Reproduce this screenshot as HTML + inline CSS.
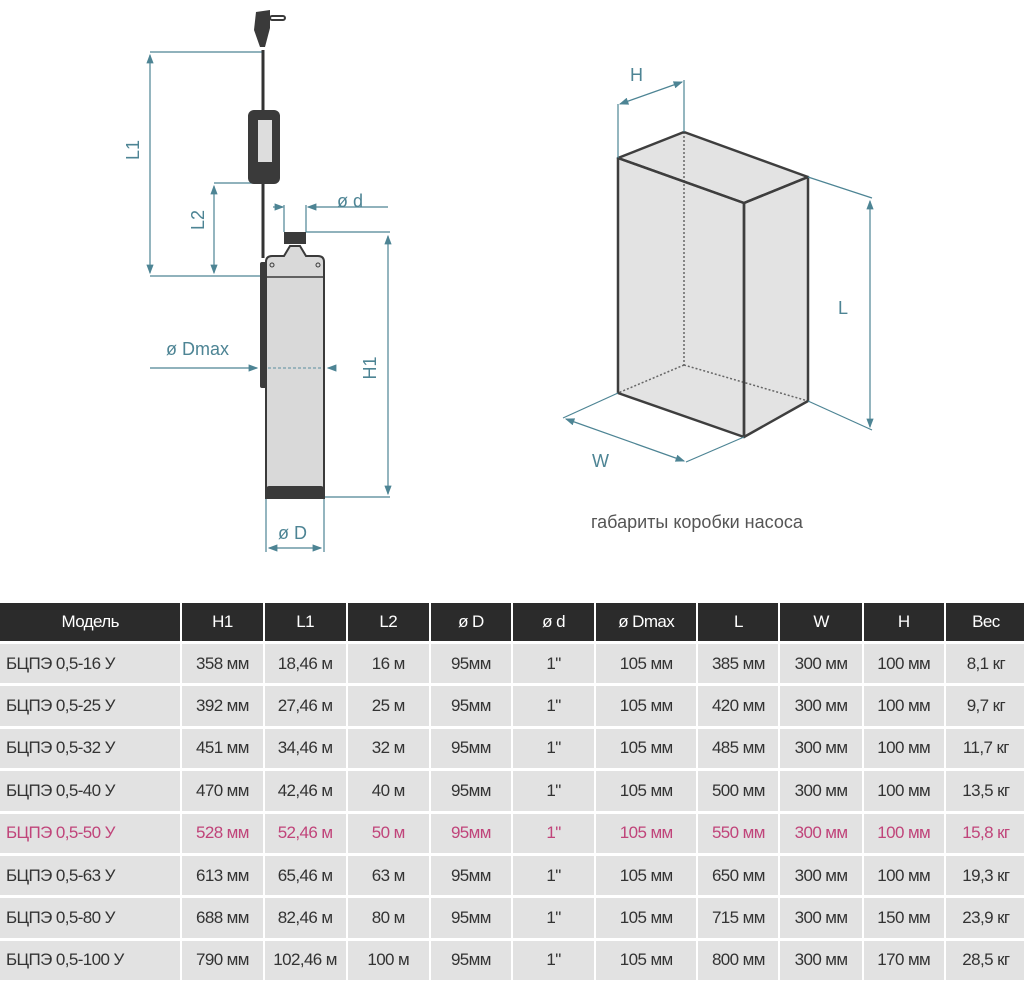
<!DOCTYPE html>
<html><head><meta charset="utf-8"><style>
body{margin:0;width:1024px;height:977px;background:#fff;overflow:hidden;font-family:"Liberation Sans","DejaVu Sans",sans-serif;position:relative}
svg{position:absolute;left:0;top:0}
table{position:absolute;left:-2px;top:600px;border-collapse:separate;border-spacing:2px 3px;width:1030px;table-layout:fixed}
td,th{height:39.4px;padding:0;text-align:center;font-size:17px;color:#333;background:#e2e2e2;white-space:nowrap;letter-spacing:-0.6px;overflow:hidden}
th{background:#2b2b2b;color:#fff;font-weight:normal;height:38px}
td:first-child{text-align:left;padding-left:6px}
tr.p td{color:#c0447a}
</style></head><body>
<svg width="1024" height="600" viewBox="0 0 1024 600">
<defs><marker id="a" markerWidth="8" markerHeight="8" refX="7" refY="4" orient="auto-start-reverse"><path d="M0,1 L8,4 L0,7z" fill="#4d8494"/></marker></defs>
<g stroke="#4d8494" stroke-width="1.2" fill="none">
<line x1="150" y1="52" x2="262" y2="52"/><line x1="150" y1="276" x2="265" y2="276"/>
<line x1="150" y1="55" x2="150" y2="273" marker-start="url(#a)" marker-end="url(#a)"/>
<line x1="214" y1="183" x2="262" y2="183"/>
<line x1="214" y1="186" x2="214" y2="273" marker-start="url(#a)" marker-end="url(#a)"/>
<line x1="284" y1="205" x2="284" y2="232"/><line x1="306" y1="205" x2="306" y2="232"/>
<line x1="273" y1="207" x2="283" y2="207" marker-end="url(#a)"/>
<line x1="388" y1="207" x2="308" y2="207" marker-end="url(#a)"/>
<line x1="306" y1="232" x2="390" y2="232"/><line x1="324" y1="497" x2="390" y2="497"/>
<line x1="388" y1="236" x2="388" y2="494" marker-start="url(#a)" marker-end="url(#a)"/>
<line x1="266" y1="498" x2="266" y2="552"/><line x1="324" y1="498" x2="324" y2="552"/>
<line x1="269" y1="548" x2="321" y2="548" marker-start="url(#a)" marker-end="url(#a)"/>
<line x1="150" y1="368" x2="257" y2="368" marker-end="url(#a)"/>
<line x1="336" y1="368" x2="328" y2="368" marker-end="url(#a)"/>
</g>
<line x1="263" y1="50" x2="263" y2="258" stroke="#333" stroke-width="3"/>
<path d="M256,12 L270,10 L270,28 L265,47 L260,47 L254,30z" fill="#3a3a3a"/>
<rect x="270" y="16" width="15" height="4" rx="2" fill="#fff" stroke="#3a3a3a" stroke-width="2"/>
<rect x="248" y="110" width="32" height="74" rx="6" fill="#3a3a3a"/>
<rect x="258" y="120" width="14" height="42" fill="#ddd"/>
<rect x="260" y="262" width="8" height="126" rx="2" fill="#3a3a3a"/>
<rect x="284" y="232" width="22" height="12" fill="#3a3a3a"/>
<path d="M266,262 Q266,256 272,256 L284,256 L290,246 L300,246 L306,256 L318,256 Q324,256 324,262 L324,498 L266,498z" fill="#d9d9d9" stroke="#3a3a3a" stroke-width="2"/>
<line x1="266" y1="277" x2="324" y2="277" stroke="#3a3a3a" stroke-width="1.5"/>
<circle cx="272" cy="265" r="2" fill="none" stroke="#3a3a3a"/><circle cx="318" cy="265" r="2" fill="none" stroke="#3a3a3a"/>
<rect x="266" y="486" width="58" height="12" rx="3" fill="#3a3a3a"/>
<line x1="268" y1="368" x2="322" y2="368" stroke="#5a8fa0" stroke-dasharray="3,2"/>
<g fill="#4d8494" font-size="18">
<text x="133" y="150" transform="rotate(-90 133 150)" text-anchor="middle" dy="6">L1</text>
<text x="198" y="220" transform="rotate(-90 198 220)" text-anchor="middle" dy="6">L2</text>
<text x="370" y="368" transform="rotate(-90 370 368)" text-anchor="middle" dy="6">H1</text>
<text x="337" y="207">ø d</text>
<text x="166" y="355">ø Dmax</text>
<text x="278" y="539">ø D</text>
</g>
<polygon points="618,158 684,132 808,177 808,401 744,437 618,393" fill="#e3e3e3"/>
<g stroke="#666" stroke-width="1.5" stroke-dasharray="2,2" fill="none">
<line x1="684" y1="132" x2="684" y2="365"/><line x1="684" y1="365" x2="618" y2="393"/><line x1="684" y1="365" x2="808" y2="401"/>
</g>
<g stroke="#3e3e3e" stroke-width="2.5" fill="none" stroke-linejoin="round">
<polygon points="618,158 684,132 808,177 744,203"/>
<polygon points="618,158 744,203 744,437 618,393"/>
<polygon points="744,203 808,177 808,401 744,437"/>
</g>
<g stroke="#4d8494" stroke-width="1.2" fill="none">
<line x1="618" y1="158" x2="618" y2="104"/><line x1="684" y1="132" x2="684" y2="80"/>
<line x1="620" y1="104" x2="682" y2="82" marker-start="url(#a)" marker-end="url(#a)"/>
<line x1="808" y1="177" x2="872" y2="198"/><line x1="808" y1="401" x2="872" y2="430"/>
<line x1="870" y1="201" x2="870" y2="427" marker-start="url(#a)" marker-end="url(#a)"/>
<line x1="618" y1="393" x2="563" y2="418"/><line x1="744" y1="437" x2="686" y2="462"/>
<line x1="566" y1="419" x2="684" y2="461" marker-start="url(#a)" marker-end="url(#a)"/>
</g>
<g fill="#4d8494" font-size="18">
<text x="630" y="81">H</text><text x="838" y="314">L</text><text x="592" y="467">W</text>
</g>
<text x="591" y="528" font-size="18" fill="#555">габариты коробки насоса</text>
</svg>
<table>
<colgroup><col style="width:180px"><col style="width:80px"><col style="width:81px"><col style="width:81px"><col style="width:80px"><col style="width:81px"><col style="width:100px"><col style="width:80px"><col style="width:81px"><col style="width:80px"><col style="width:80px"></colgroup>
<tr><th>Модель</th><th>H1</th><th>L1</th><th>L2</th><th>ø D</th><th>ø d</th><th>ø Dmax</th><th>L</th><th>W</th><th>H</th><th>Вес</th></tr>
<tr><td>БЦПЭ 0,5-16 У</td><td>358 мм</td><td>18,46 м</td><td>16 м</td><td>95мм</td><td>1"</td><td>105 мм</td><td>385 мм</td><td>300 мм</td><td>100 мм</td><td>8,1 кг</td></tr>
<tr><td>БЦПЭ 0,5-25 У</td><td>392 мм</td><td>27,46 м</td><td>25 м</td><td>95мм</td><td>1"</td><td>105 мм</td><td>420 мм</td><td>300 мм</td><td>100 мм</td><td>9,7 кг</td></tr>
<tr><td>БЦПЭ 0,5-32 У</td><td>451 мм</td><td>34,46 м</td><td>32 м</td><td>95мм</td><td>1"</td><td>105 мм</td><td>485 мм</td><td>300 мм</td><td>100 мм</td><td>11,7 кг</td></tr>
<tr><td>БЦПЭ 0,5-40 У</td><td>470 мм</td><td>42,46 м</td><td>40 м</td><td>95мм</td><td>1"</td><td>105 мм</td><td>500 мм</td><td>300 мм</td><td>100 мм</td><td>13,5 кг</td></tr>
<tr class="p"><td>БЦПЭ 0,5-50 У</td><td>528 мм</td><td>52,46 м</td><td>50 м</td><td>95мм</td><td>1"</td><td>105 мм</td><td>550 мм</td><td>300 мм</td><td>100 мм</td><td>15,8 кг</td></tr>
<tr><td>БЦПЭ 0,5-63 У</td><td>613 мм</td><td>65,46 м</td><td>63 м</td><td>95мм</td><td>1"</td><td>105 мм</td><td>650 мм</td><td>300 мм</td><td>100 мм</td><td>19,3 кг</td></tr>
<tr><td>БЦПЭ 0,5-80 У</td><td>688 мм</td><td>82,46 м</td><td>80 м</td><td>95мм</td><td>1"</td><td>105 мм</td><td>715 мм</td><td>300 мм</td><td>150 мм</td><td>23,9 кг</td></tr>
<tr><td>БЦПЭ 0,5-100 У</td><td>790 мм</td><td>102,46 м</td><td>100 м</td><td>95мм</td><td>1"</td><td>105 мм</td><td>800 мм</td><td>300 мм</td><td>170 мм</td><td>28,5 кг</td></tr>
</table>
</body></html>
